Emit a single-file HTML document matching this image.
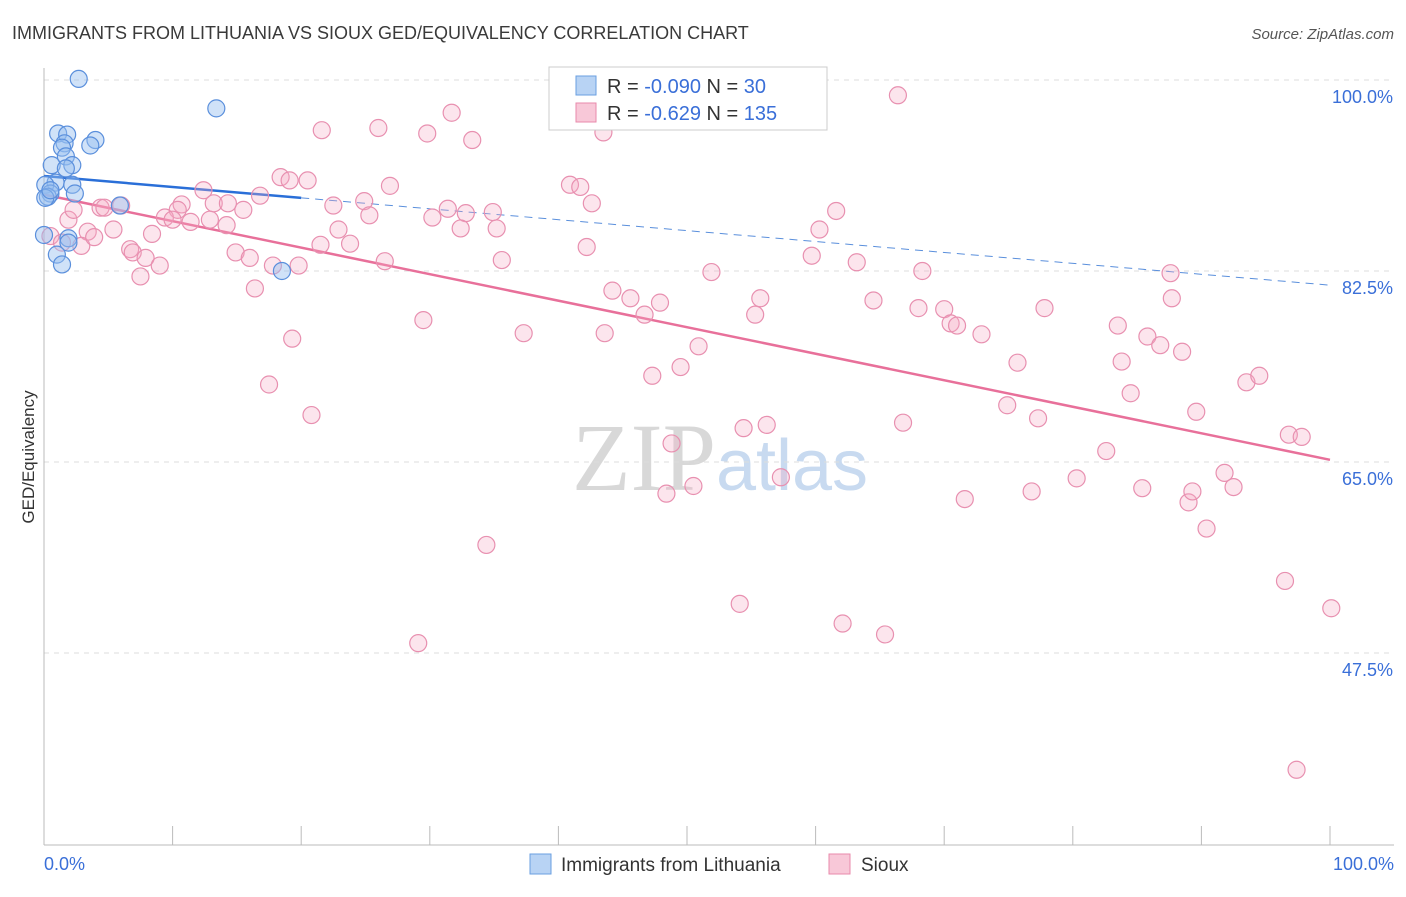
<!DOCTYPE html>
<html><head><meta charset="utf-8"><style>
body{margin:0;background:#fff;font-family:"Liberation Sans",sans-serif;}
svg text{font-family:"Liberation Sans",sans-serif;}
</style></head><body>
<svg id="chart" width="1406" height="892" viewBox="0 0 1406 892" xmlns="http://www.w3.org/2000/svg">
<text x="12" y="39" font-size="18" fill="#3a3a3a">IMMIGRANTS FROM LITHUANIA VS SIOUX GED/EQUIVALENCY CORRELATION CHART</text>
<text x="1394" y="39" font-size="15" fill="#555" text-anchor="end" font-style="italic">Source: ZipAtlas.com</text>
<text x="720" y="490" font-size="96" text-anchor="middle"><tspan fill="#d8d8d8" font-family="Liberation Serif">ZIP</tspan><tspan fill="#c8daf0" font-size="72">atlas</tspan></text>
<g id="grid"></g>
<g id="axes"></g>
<text transform="translate(34,457) rotate(-90)" font-size="17" fill="#333" text-anchor="middle">GED/Equivalency</text>
<g id="trends"></g>
<g id="points"></g>
<g>
<rect x="549" y="67" width="278" height="63" fill="#fff" stroke="#ccc"/>
<rect x="576" y="76" width="20" height="19" fill="#b8d3f4" stroke="#6a9fe0"/>
<text x="607" y="93" font-size="20" fill="#333">R = <tspan fill="#3a6fd8">-0.090</tspan>   N =  <tspan fill="#3a6fd8">30</tspan></text>
<rect x="576" y="103" width="20" height="19" fill="#f8c8d8" stroke="#e88aab"/>
<text x="607" y="120" font-size="20" fill="#333">R =  <tspan fill="#3a6fd8">-0.629</tspan>   N = <tspan fill="#3a6fd8">135</tspan></text>
</g>
<g>
<rect x="530" y="854" width="21" height="20" fill="#b8d3f4" stroke="#6a9fe0"/>
<text x="561" y="871" font-size="19" fill="#333">Immigrants from Lithuania</text>
<rect x="829" y="854" width="21" height="20" fill="#f8c8d8" stroke="#e88aab"/>
<text x="861" y="871" font-size="19" fill="#333">Sioux</text>
</g>
</svg>
<script>
const yTicks=[100,82.5,65,47.5];
const yTickLabels=["100.0%","82.5%","65.0%","47.5%"];
const xTickLabels=["0.0%","100.0%"];
const blueX=[2.7,13.4,1.1,1.8,4.0,1.6,3.6,1.4,1.7,0.6,2.2,1.7,0.9,0.1,2.2,0.5,2.4,0.3,5.9,0,1.9,1.9,1.0,1.4,18.5,0.1,0.5];
const blueY=[100.1,97.4,95.1,95.0,94.5,94.2,94.0,93.8,93.0,92.2,92.2,91.9,90.6,90.4,90.4,89.6,89.6,89.3,88.5,85.8,85.5,85.1,84.0,83.1,82.5,89.2,89.9];
const pinkX=[66.4,31.7,21.6,26.0,29.8,33.3,43.5,18.4,19.1,20.5,26.9,40.9,41.7,12.4,16.8,24.9,42.6,22.5,31.4,32.8,34.9,30.2,32.4,35.2,61.6,60.3,4.4,4.7,6.0,10.7,10.4,13.2,14.3,15.5,9.4,10.0,11.4,12.9,14.2,1.9,2.3,3.4,5.4,8.4,0.5,1.4,2.9,3.9,6.7,6.9,7.9,9.0,7.5,14.9,16.0,17.8,19.8,16.4,21.5,23.8,22.9,25.3,26.5,35.6,42.2,44.2,45.6,47.9,46.7,51.9,55.7,55.3,59.7,63.2,64.5,68.3,68.0,70.0,70.5,71.0,72.9,77.8,83.5,85.8,86.8,88.5,87.6,87.7,83.8,75.7,84.5,74.9,77.3,89.6,93.5,94.5,96.8,97.8,66.8,54.4,56.2,48.8,57.3,50.5,48.4,71.6,76.8,80.3,82.6,85.4,89.0,89.3,91.8,92.5,90.4,34.4,54.1,62.1,65.4,29.1,96.5,100.1,97.4,19.3,20.8,17.5,29.5,37.3,43.6,47.3,49.5,50.9];
const pinkY=[98.6,97.0,95.4,95.6,95.1,94.5,95.2,91.1,90.8,90.8,90.3,90.4,90.2,89.9,89.4,88.9,88.7,88.5,88.2,87.8,87.9,87.4,86.4,86.4,88.0,86.3,88.3,88.3,88.5,88.6,88.1,88.7,88.7,88.1,87.4,87.2,87.0,87.2,86.7,87.2,88.1,86.1,86.3,85.9,85.7,85.1,84.8,85.6,84.5,84.2,83.7,83.0,82.0,84.2,83.7,83.0,83.0,80.9,84.9,85.0,86.3,87.6,83.4,83.5,84.7,80.7,80.0,79.6,78.5,82.4,80.0,78.5,83.9,83.3,79.8,82.5,79.1,79.0,77.7,77.5,76.7,79.1,77.5,76.5,75.7,75.1,82.3,80.0,74.2,74.1,71.3,70.2,69.0,69.6,72.3,72.9,67.5,67.3,68.6,68.1,68.4,66.7,63.6,62.8,62.1,61.6,62.3,63.5,66.0,62.6,61.3,62.3,64.0,62.7,58.9,57.4,52.0,50.2,49.2,48.4,54.1,51.6,36.8,76.3,69.3,72.1,78.0,76.8,76.8,72.9,73.7,75.6];
const blueTrend=[91.2,81.2]; // y at x=0, x=100
const pinkTrend=[89.5,65.2];
const NS="http://www.w3.org/2000/svg";
const X0=44,X1=1330,YTOP=80,YPER=10.914;
function sx(v){return X0+(X1-X0)*v/100;}
function sy(v){return YTOP+(100-v)*YPER;}
function mk(tag,attrs,parent){const e=document.createElementNS(NS,tag);for(const k in attrs)e.setAttribute(k,attrs[k]);parent.appendChild(e);return e;}
const grid=document.getElementById('grid'),axes=document.getElementById('axes');
yTicks.forEach((t,i)=>{
 const l=mk('line',{x1:X0,x2:1394,y1:sy(t),y2:sy(t),stroke:'#ddd','stroke-dasharray':'5,5'},grid);
 
 
 const tx=mk('text',{x:1393,y:sy(t)+23,'font-size':18,fill:'#3a6fd8','text-anchor':'end'},axes);
 tx.textContent=yTickLabels[i];
 
 
});
const ax=mk('line',{x1:X0,x2:1394,y1:845,y2:845,stroke:'#bbb'},axes);


const ay=mk('line',{x1:X0,x2:X0,y1:68,y2:845,stroke:'#bbb'},axes);


for(let i=0;i<=10;i++){
 const tk=mk('line',{x1:sx(i*10),x2:sx(i*10),y1:826,y2:845,stroke:'#bbb'},axes);
 
 
}
const xl0=mk('text',{x:44,y:870,'font-size':18,fill:'#3a6fd8'},axes);xl0.textContent=xTickLabels[0];


const xl1=mk('text',{x:1394,y:870,'font-size':18,fill:'#3a6fd8','text-anchor':'end'},axes);xl1.textContent=xTickLabels[1];


const pts=document.getElementById('points');
pinkX.forEach((v,i)=>{
 const c=mk('circle',{cx:sx(v),cy:sy(pinkY[i]),r:8.5,fill:'rgba(244,170,196,0.3)',stroke:'#e890b0','stroke-width':1.2},pts);
 
 
});
blueX.forEach((v,i)=>{
 const c=mk('circle',{cx:sx(v),cy:sy(blueY[i]),r:8.5,fill:'rgba(150,190,240,0.45)',stroke:'#5a8fdc','stroke-width':1.2},pts);
 
 
});
const tr=document.getElementById('trends');
function ty(t,x){return t[0]+(t[1]-t[0])*x/100;}
const b1=mk('line',{x1:sx(0),y1:sy(ty(blueTrend,0)),x2:sx(20),y2:sy(ty(blueTrend,20)),stroke:'#2a6fd8','stroke-width':2.5},tr);


const b2=mk('line',{x1:sx(20),y1:sy(ty(blueTrend,20)),x2:sx(100),y2:sy(ty(blueTrend,100)),stroke:'#5a8fdc','stroke-width':1,'stroke-dasharray':'8,6'},tr);


const p1=mk('line',{x1:sx(0),y1:sy(ty(pinkTrend,0)),x2:sx(100),y2:sy(ty(pinkTrend,100)),stroke:'#e8709a','stroke-width':2.5},tr);


</script>
</body></html>
